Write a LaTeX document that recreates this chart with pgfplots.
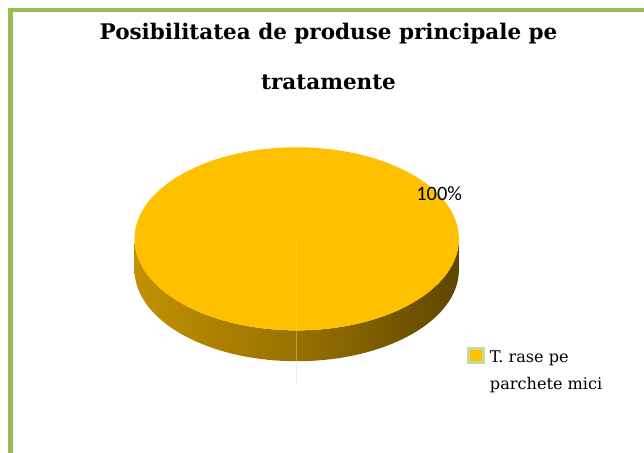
\documentclass[border=0pt]{standalone}
\usepackage{fontspec}
\setmainfont{DejaVu Serif}
\newfontfamily\calibri{Carlito}
\usepackage{pgfplots}
\usepackage{pgfplotstable}
\pgfplotsset{compat=1.18}
\definecolor{framegreen}{HTML}{9BBB59}
\definecolor{pieyellow}{HTML}{FFC000}
\definecolor{sideleft}{HTML}{C29100}
\definecolor{sidemid}{HTML}{987100}
\definecolor{sideright}{HTML}{5E4600}
\definecolor{legborder}{HTML}{C6D9A0}
\pgfplotstableread{
label value
Trase 100
}\piedata
\begin{document}
\pgfplotstablegetelem{0}{value}\of\piedata
\pgfmathsetmacro\pieang{\pgfplotsretval/100*360}
\begin{tikzpicture}
\begin{axis}[x=1pt,y=1pt,xmin=0,xmax=644,ymin=-455,ymax=0,hide axis,clip=false]
\path (axis cs:0,0) rectangle (axis cs:644,-455);
% frame
\fill[framegreen] (axis cs:5,-455) rectangle (axis cs:10,-8);
\fill[framegreen] (axis cs:5,-12) rectangle (axis cs:644,-8);
% pie side
\shade[left color=sideleft,right color=sideright,middle color=sidemid]
  (axis cs:132,-240) -- (axis cs:132,-271)
  arc[start angle=180,end angle=360,x radius=163pt,y radius=92pt]
  -- (axis cs:458,-240)
  arc[start angle=0,end angle=-180,x radius=163pt,y radius=92pt] -- cycle;
% pie top
\fill[pieyellow] (axis cs:295,-240) -- (axis cs:295,-148)
  arc[start angle=90,end angle={90-\pieang},x radius=163pt,y radius=92pt] -- cycle;
\draw[white,opacity=0.12,line width=0.8pt] (axis cs:295,-240) -- (axis cs:295,-332);
\draw[white,opacity=0.3,line width=0.8pt] (axis cs:295,-332) -- (axis cs:295,-363);
\draw[black!8,line width=0.6pt] (axis cs:295,-363) -- (axis cs:295,-385);
% title
\node[anchor=base,font=\bfseries\fontsize{21.6}{26}\selectfont] at (axis cs:327,-40) {Posibilitatea de produse principale pe};
\node[anchor=base,font=\bfseries\fontsize{21.6}{26}\selectfont] at (axis cs:327,-90) {tratamente};
% data label
\node[anchor=base west,inner sep=0pt,font=\calibri\fontsize{20.5}{24}\selectfont] at (axis cs:415,-201) {100\%};
% legend
\fill[legborder] (axis cs:466,-366) rectangle (axis cs:484,-349);
\fill[pieyellow] (axis cs:469,-363) rectangle (axis cs:481,-352);
\node[anchor=base west,inner sep=0pt,font=\fontsize{16.2}{20}\selectfont] at (axis cs:489,-364) {T. rase pe};
\node[anchor=base west,inner sep=0pt,font=\fontsize{16.2}{20}\selectfont] at (axis cs:489,-391) {parchete mici};
\end{axis}
\end{tikzpicture}
\end{document}
